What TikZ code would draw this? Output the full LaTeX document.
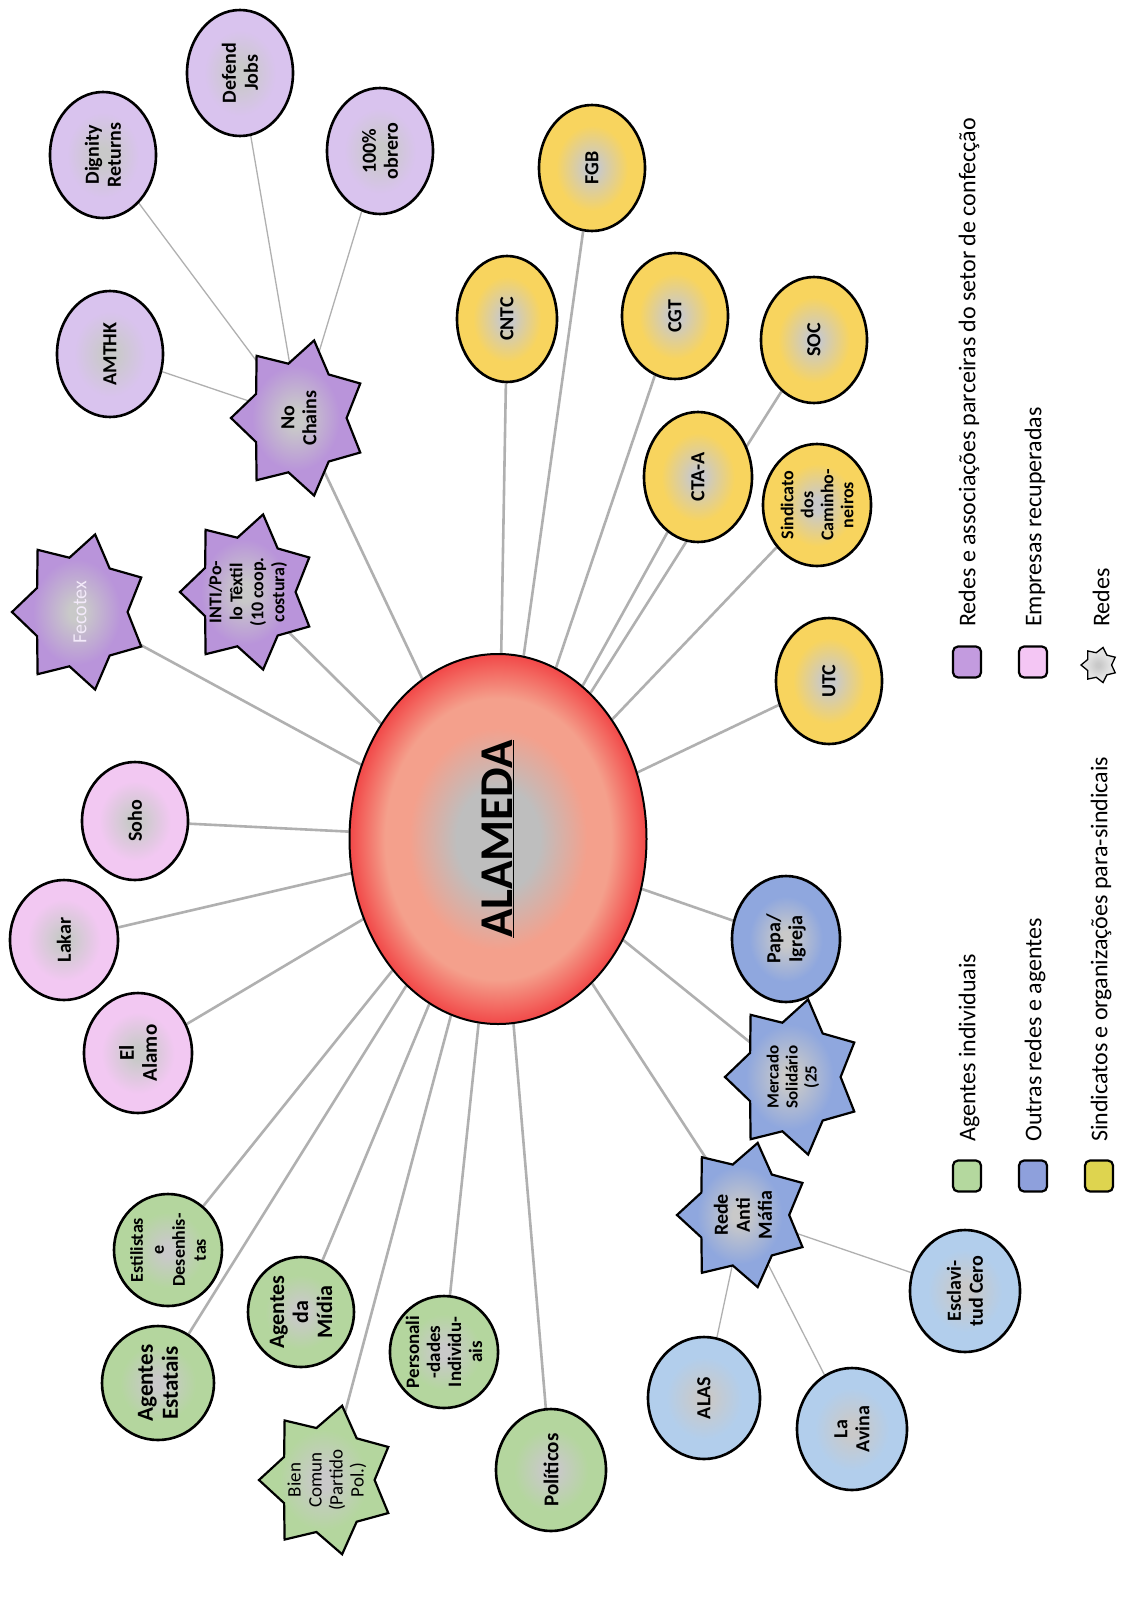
\documentclass[tikz,border=0pt]{standalone}
\usepackage{fontspec}
\setmainfont{Carlito}
\usetikzlibrary{shapes.geometric}
\definecolor{cgray}{HTML}{C9C9C9}
\definecolor{cpur}{HTML}{B994DA}
\definecolor{cpurl}{HTML}{D9C3EE}
\definecolor{cpink}{HTML}{F2C8F2}
\definecolor{cyel}{HTML}{F8D45E}
\definecolor{cblu}{HTML}{8FA7DE}
\definecolor{clbl}{HTML}{B2CEEC}
\definecolor{cgre}{HTML}{B4D69E}
\definecolor{clink}{HTML}{B0B0B0}
\definecolor{alamgray}{HTML}{BEBEBE}
\definecolor{alamsal}{HTML}{F4A08C}
\definecolor{alamred}{HTML}{F24848}
\definecolor{lgpur}{HTML}{C39BDF}
\definecolor{lgpink}{HTML}{F4C6F4}
\definecolor{lggre}{HTML}{B4D89E}
\definecolor{lgblu}{HTML}{8EA0DC}
\definecolor{lgyel}{HTML}{DED44F}
\definecolor{lgstar}{HTML}{E2E2E2}
\definecolor{fecotxt}{HTML}{F3EAFA}
\colorlet{bubcol}{white}
\pgfdeclareradialshading{alam}{\pgfpoint{0bp}{0bp}}{color(0bp)=(alamgray); color(7bp)=(alamgray); color(15bp)=(alamsal); color(19bp)=(alamsal); color(25bp)=(alamred); color(50bp)=(alamred)}
\pgfdeclareradialshading[bubcol]{bubble}{\pgfpoint{0bp}{0bp}}{color(0bp)=(cgray); color(3bp)=(cgray); color(17bp)=(bubcol); color(50bp)=(bubcol)}
\pgfdeclarelayer{bg}
\pgfsetlayers{bg,main}
\newcommand\nodefnt{\bfseries\fontsize{20}{22}\selectfont}
\newcommand\legfnt{\fontsize{24}{27}\selectfont}
\newcommand\drawstar[6]{%
  \path[draw=black, line width=#6, /utils/exec={\colorlet{bubcol}{#5}}, shading=bubble, shift={(#1,#2)}]
    plot[samples at={0,...,13}] ({(mod(\x,2)==0?#3:0.7*#3)*cos(180+\x*360/14)},{#4*(mod(\x,2)==0?#3:0.7*#3)*sin(180+\x*360/14)}) -- cycle;}
\tikzset{
  bub/.style n args={3}{ellipse, draw=black, line width=2.6pt, /utils/exec={\colorlet{bubcol}{#1}}, shading=bubble, rotate=90, minimum height=#2pt, minimum width=#3pt, inner sep=0pt, align=center, font=\nodefnt},
  sttxt/.style={circle, minimum size=96pt, inner sep=0pt, rotate=90, align=center, font=\nodefnt},
  link/.style={draw=clink, line width=2.6pt},
  sublink/.style={draw=clink, line width=1.3pt},
  lgsq/.style={draw=black, line width=2.2pt, rounded corners=5pt, minimum width=31pt, minimum height=28pt, rotate=90, inner sep=0pt},
  lgtxt/.style={rotate=90, anchor=west, font=\legfnt, inner sep=0pt},
}
\begin{document}
\begin{tikzpicture}[x=1pt,y=-1pt]
\begin{pgfonlayer}{bg}
\fill[white] (0,0) rectangle (1133,1601);
\end{pgfonlayer}
\useasboundingbox (0,0) rectangle (1133,1601);

% centre
\node[ellipse, draw=black, line width=2pt, shading=alam, rotate=90, minimum width=370pt, minimum height=297pt, inner sep=0pt, font=\bfseries\fontsize{47}{50}\selectfont] (alameda) at (498,839) {\underline{ALAMEDA}};

% purple
\node[bub={cpurl}{106}{126}] (dign) at (103,155) {Dignity\\Returns};
\node[bub={cpurl}{106}{126}] (defe) at (240,73) {Defend\\Jobs};
\node[bub={cpurl}{106}{126}] (obre) at (380,151) {100\%\\obrero};
\node[bub={cpurl}{106}{126}] (amth) at (110,354) {AMTHK};
\drawstar{299}{418}{68}{1.17}{cpur}{2.2pt}
\node[sttxt] (nochains) at (299,418) {No\\Chains};
\drawstar{80}{612}{68}{1.17}{cpur}{2.2pt}
\node[sttxt, font=\fontsize{20}{22}\selectfont, text=fecotxt] (fecotex) at (80,612) {Fecotex};
\drawstar{248}{592}{68}{1.17}{cpur}{2.2pt}
\node[sttxt, font=\bfseries\fontsize{18}{21}\selectfont] (inti) at (248,592) {INTI/Po-\\lo Têxtil\\(10 coop.\\costura)};

% pink
\node[bub={cpink}{106}{118}] (soho) at (135,821) {Soho};
\node[bub={cpink}{108}{120}] (lakar) at (64,940) {Lakar};
\node[bub={cpink}{108}{120}, font=\bfseries\fontsize{21}{23}\selectfont] (alamo) at (138,1053) {El\\Alamo};

% yellow
\node[bub={cyel}{100}{126}] (cntc) at (507,319) {CNTC};
\node[bub={cyel}{106}{126}] (fgb) at (592,168) {FGB};
\node[bub={cyel}{106}{126}] (cgt) at (675,316) {CGT};
\node[bub={cyel}{106}{126}] (soc) at (814,340) {SOC};
\node[bub={cyel}{108}{130}] (cta) at (698,477) {CTA-A};
\node[bub={cyel}{108}{122}, font=\bfseries\fontsize{18}{20}\selectfont] (sind) at (817,505) {Sindicato\\dos\\Caminho-\\neiros};
\node[bub={cyel}{106}{126}] (utc) at (829,681) {UTC};

% blue
\node[bub={cblu}{108}{126}] (papa) at (786,939) {Papa/\\Igreja};
\drawstar{793}{1077}{68}{1.17}{cblu}{2.2pt}
\node[sttxt, font=\bfseries\fontsize{17}{19}\selectfont] (mercado) at (793,1077) {Mercado\\Solidário\\(25};
\drawstar{743}{1215}{66}{1.12}{cblu}{2.2pt}
\node[sttxt] (antimafia) at (743,1215) {Rede\\Anti\\Máfia};
\node[bub={clbl}{112}{122}] (alas) at (704,1398) {ALAS};
\node[bub={clbl}{110}{122}] (avina) at (852,1429) {La\\Avina};
\node[bub={clbl}{110}{122}] (escl) at (965,1291) {Esclavi-\\tud Cero};

% green
\node[bub={cgre}{108}{112}, font=\bfseries\fontsize{18}{21}\selectfont] (estil) at (168,1250) {Estilistas\\e\\Desenhis-\\tas};
\node[bub={cgre}{112}{114}, font=\bfseries\fontsize{23}{25}\selectfont] (estat) at (158,1383) {Agentes\\Estatais};
\node[bub={cgre}{106}{110}, font=\bfseries\fontsize{22}{24}\selectfont] (midia) at (301,1312) {Agentes\\da\\Mídia};
\node[bub={cgre}{108}{112}, font=\bfseries\fontsize{19}{21}\selectfont] (perso) at (444,1352) {Personali\\-dades\\Individu-\\ais};
\drawstar{327}{1480}{68}{1.12}{cgre}{2.2pt}
\node[sttxt, font=\fontsize{19}{21}\selectfont] (bien) at (327,1480) {Bien\\Comun\\(Partido\\Pol.)};
\node[bub={cgre}{110}{122}, font=\bfseries\fontsize{21}{23}\selectfont] (polit) at (551,1470) {Políticos};

% legend
\node[lgsq, fill=lgpur] (lsq1) at (967,662) {};
\node[lgsq, fill=lgpink] (lsq2) at (1033,662) {};
\drawstar{1099}{665}{18}{1.0}{lgstar}{1.3pt}
\node[lgsq, fill=lggre] (lsq3) at (967,1176) {};
\node[lgsq, fill=lgblu] (lsq4) at (1033,1176) {};
\node[lgsq, fill=lgyel] (lsq5) at (1099,1176) {};
\node[lgtxt] (lt1) at (969,627) {Redes e associações parceiras do setor de confecção};
\node[lgtxt] (lt2) at (1035,627) {Empresas recuperadas};
\node[lgtxt] (lt3) at (1101,627) {Redes};
\node[lgtxt] (lt4) at (969,1142) {Agentes individuais};
\node[lgtxt] (lt5) at (1035,1142) {Outras redes e agentes};
\node[lgtxt] (lt6) at (1101,1142) {Sindicatos e organizações para-sindicais};

% connectors
\begin{pgfonlayer}{bg}
\foreach \n in {fecotex,inti,nochains,cntc,fgb,cgt,cta,soc,sind,utc,papa,mercado,antimafia,polit,perso,bien,midia,estat,estil,alamo,lakar,soho}
  \draw[link] (alameda) -- (\n);
\foreach \n in {amth,dign,defe,obre}
  \draw[sublink] (nochains) -- (\n);
\foreach \n in {alas,avina,escl}
  \draw[sublink] (antimafia) -- (\n);
\end{pgfonlayer}
\end{tikzpicture}
\end{document}
